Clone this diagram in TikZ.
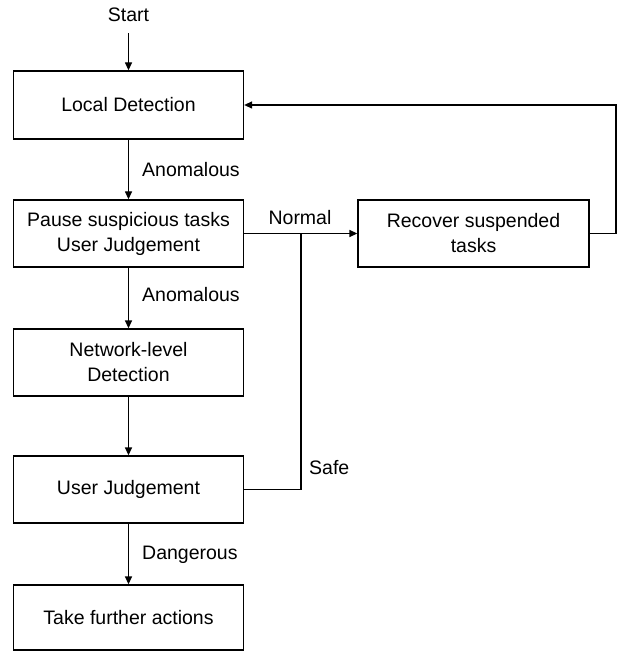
\documentclass[tikz,border=0pt]{standalone}
\usepackage{fontspec}
\setmainfont{Liberation Sans}
\usetikzlibrary{arrows.meta}
\begin{document}
\begin{tikzpicture}[x=1pt,y=-1pt,
  box/.style={draw,line width=1.3pt,minimum width=230pt,minimum height=67pt,inner sep=0pt,align=center,font=\fontsize{19.5}{25}\selectfont},
  lbl/.style={inner sep=0pt,font=\fontsize{19.5}{25}\selectfont},
  arr/.style={line width=1.3pt,-{Triangle[length=8pt,width=7pt]}},
  ln/.style={line width=1.3pt}]
\useasboundingbox (0,0) rectangle (617,652);
\node[lbl] (start) at (128.5,15) {Start};
\node[box,minimum height=68pt] (ld) at (128.5,105) {Local Detection};
\node[box] (ps) at (128.5,233.5) {Pause suspicious tasks\\User Judgement};
\node[box] (nd) at (128.5,362.5) {Network-level\\Detection};
\node[box] (uj) at (128.5,489.5) {User Judgement};
\node[box,minimum height=65pt] (tf) at (128.5,617.5) {Take further actions};
\node[box,minimum width=231pt] (rs) at (473.5,233.5) {Recover suspended\\tasks};
\node[lbl,anchor=west] (a1) at (142,170) {Anomalous};
\node[lbl,anchor=west] (a2) at (142,295) {Anomalous};
\node[lbl] (nm) at (300,218) {Normal};
\node[lbl,anchor=west] (sf) at (309,468) {Safe};
\node[lbl,anchor=west] (dg) at (142,555) {Dangerous};
\coordinate (j) at (301,233.5);
\coordinate (fb) at (616,105);
\draw[arr] ([yshift=-11pt]start.south) -- (ld.north);
\draw[arr] (ld) -- (ps);
\draw[arr] (ps) -- (nd);
\draw[arr] (nd) -- (uj);
\draw[arr] (uj) -- (tf);
\draw[arr] (ps.east) -- (rs.west);
\draw[ln] (uj.east) -| (j);
\draw[arr] (rs.east) -| (fb) -- (ld.east);
\end{tikzpicture}
\end{document}
